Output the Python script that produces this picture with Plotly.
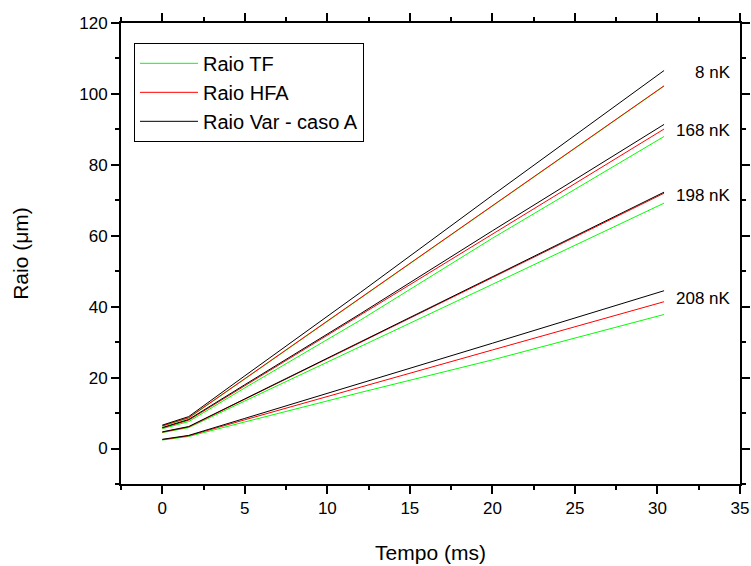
import plotly.graph_objects as go

# Time samples (ms)
t = [0, 1.6, 5, 12, 20, 30.4]

# Temperatures (labels)
temps = ["8 nK", "168 nK", "198 nK", "208 nK"]

# Raio TF (green)
tf_8 = [6.3, 8.6, 19.6, 42.4, 68.4, 102.2]
tf_168 = [5.6, 7.6, 17.1, 36.2, 59.3, 88.0]
tf_198 = [4.5, 5.9, 13.4, 28.7, 46.3, 69.2]
tf_208 = [2.4, 3.4, 7.5, 15.8, 25.0, 37.8]

# Raio HFA (red)
hfa_8 = [6.4, 8.7, 19.7, 42.5, 68.5, 102.3]
hfa_168 = [5.8, 8.0, 17.7, 37.6, 60.5, 90.1]
hfa_198 = [4.6, 6.1, 13.9, 30.0, 48.2, 72.0]
hfa_208 = [2.5, 3.6, 8.1, 17.2, 27.8, 41.4]

# Raio Var - caso A (black)
var_8 = [6.6, 9.0, 20.5, 44.0, 71.4, 106.6]
var_168 = [5.9, 8.2, 18.0, 38.0, 61.4, 91.4]
var_198 = [4.7, 6.2, 14.0, 30.1, 48.4, 72.3]
var_208 = [2.6, 3.7, 8.5, 18.3, 29.7, 44.5]

# Label positions (data coords) for the temperature annotations
label_x = 34.6
label_y = [106.0, 89.6, 71.3, 42.2]

series = [
    ("Raio TF", "#00ff00", [tf_8, tf_168, tf_198, tf_208]),
    ("Raio HFA", "#ff0000", [hfa_8, hfa_168, hfa_198, hfa_208]),
    ("Raio Var - caso A", "#000000", [var_8, var_168, var_198, var_208]),
]

fig = go.Figure()
for name, color, groups in series:
    for i, ys in enumerate(groups):
        fig.add_trace(go.Scatter(
            x=t, y=ys, mode="lines", name=name,
            line=dict(color=color, width=1),
            legendgroup=name, showlegend=(i == 0),
        ))

for txt, yy in zip(temps, label_y):
    fig.add_annotation(x=label_x, y=yy, text=txt, xref="x", yref="y",
                       xanchor="right", yanchor="middle", showarrow=False,
                       font=dict(size=17, color="black"))

axis_common = dict(
    showline=True, linecolor="black", linewidth=2, mirror="ticks",
    ticks="outside", ticklen=8, tickwidth=1.5, tickcolor="black",
    showgrid=False, zeroline=False, automargin=False,
    tickfont=dict(size=17, color="black"),
)

fig.update_layout(
    template="none",
    width=751, height=566,
    margin=dict(l=121, r=11, t=23, b=82, autoexpand=False),
    paper_bgcolor="white", plot_bgcolor="white",
    font=dict(family="Liberation Sans, Arial, sans-serif", color="black"),
    xaxis=dict(range=[-2.5, 35], tick0=0, dtick=5,
               minor=dict(dtick=2.5, ticklen=4, tickwidth=1.5, tickcolor="black", ticks="outside"),
               title=dict(text="Tempo (ms)", font=dict(size=21), standoff=28),
               **axis_common),
    yaxis=dict(range=[-10, 120], tick0=0, dtick=20,
               minor=dict(dtick=10, ticklen=4, tickwidth=1.5, tickcolor="black", ticks="outside"),
               title=dict(text="Raio (μm)", font=dict(size=21), standoff=45),
               **axis_common),
    legend=dict(x=0.021, y=0.957, xanchor="left", yanchor="top",
                bordercolor="black", borderwidth=1, bgcolor="white",
                itemwidth=58,
                font=dict(size=20, color="black"), tracegroupgap=0),
    showlegend=True,
)

fig.write_html("out.html")
